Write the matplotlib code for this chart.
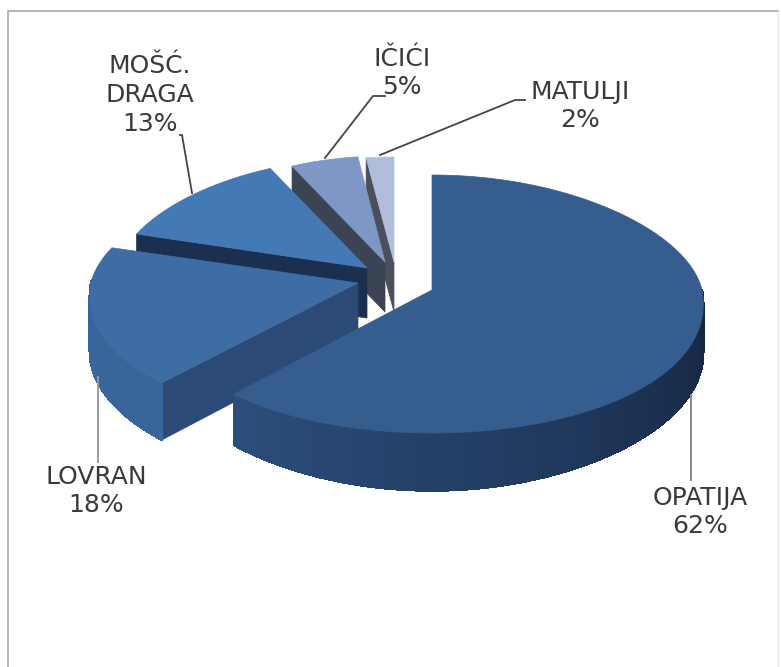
# 3D exploded pie, drawn by hand because matplotlib has no pie3d
import numpy as np
import matplotlib
matplotlib.use("Agg")
import matplotlib.pyplot as plt
from matplotlib.collections import PolyCollection
from matplotlib.colors import to_rgb

names = ["OPATIJA", "LOVRAN", "MOŠĆ.\nDRAGA", "IČIĆI", "MATULJI"]
shares = [62, 18, 13, 5, 2]

# explosion layout: apex x, apex y, radius x, radius y back, radius y front, depth
apex_x = [432, 358, 367, 385, 394]
apex_y = [290, 283, 268, 262, 262]
rad_x = [270, 267, 250, 240, 247]
rad_back = [115, 114, 110, 106, 105]
rad_front = [143, 137, 137, 137, 137]
depth = [48, 54, 50, 50, 50]

top_col = ["#355e8f", "#3e6da3", "#4379b5", "#7e97c4", "#b0bedc"]
wall_col = ["#2b4c79", "#2b4a76", "#1b2f4f", "#3b4454", "#4a4f5c"]
# rim colours run clockwise, so the big slice goes from its dark right side to the left
rim_start = ["#14243e", "#3a659b", "#1b2f4f", "#3b4454", "#4a4f5c"]
rim_end = ["#2c4e7c", "#3a659b", "#1b2f4f", "#3b4454", "#4a4f5c"]

fig = plt.figure(figsize=(7.81, 6.67), dpi=100)
ax = fig.add_axes([0, 0, 1, 1])
ax.set_xlim(0, 781)
ax.set_ylim(667, 0)
ax.axis("off")
plt.rcParams["font.family"] = ["DejaVu Sans"]

# frame of the pasted screenshot, bottom edge is cut off
ax.plot([8, 8, 778], [667, 11, 11], color="#b5b5b5", lw=1.4)
ax.plot([778, 778], [11, 667], color="#efefef", lw=1.0)


def project(i, ang):
    # slight perspective, front of the pie is wider than the back
    c, s = np.cos(ang), np.sin(ang)
    x = apex_x[i] + rad_x[i] * c * (1 - 0.1 * s)
    y = apex_y[i] - np.where(s > 0, rad_back[i], rad_front[i]) * s
    return x, y


def wall_depth(i, ang):
    # the wall looks taller towards the front
    return depth[i] * (1 + 0.2 * np.sin(ang) ** 4 * (np.sin(ang) < 0))


bounds = np.cumsum([0] + shares) / sum(shares) * 2 * np.pi
for i in range(len(shares) - 1, -1, -1):
    a0 = np.pi / 2 - bounds[i]
    a1 = np.pi / 2 - bounds[i + 1]
    ang = np.linspace(a0, a1, 160)
    x, y = project(i, ang)
    d = wall_depth(i, ang)

    # radial wall facing the viewer, all but the big slice show one
    if i > 0:
        ax.fill([apex_x[i], x[0], x[0], apex_x[i]],
                [apex_y[i], y[0], y[0] + d[0], apex_y[i] + depth[i]],
                color=wall_col[i], lw=0.5)

    # outer rim, only the front half shows
    seen = [k for k in range(len(ang) - 1) if np.sin(ang[k]) <= 0.02]
    strips, cols = [], []
    c0, c1 = np.array(to_rgb(rim_start[i])), np.array(to_rgb(rim_end[i]))
    for n, k in enumerate(seen):
        strips.append([(x[k], y[k]), (x[k + 1], y[k + 1]),
                       (x[k + 1], y[k + 1] + d[k + 1]), (x[k], y[k] + d[k])])
        cols.append(c0 + (c1 - c0) * n / max(len(seen) - 1, 1))
    if strips:
        ax.add_collection(PolyCollection(strips, facecolors=cols, edgecolors=cols,
                                         linewidths=1.0, antialiaseds=False))

    ax.fill(np.r_[apex_x[i], x], np.r_[apex_y[i], y], color=top_col[i], lw=0.5)

# leader lines
ax.plot([691, 691], [395, 480], color="#8a8a8a", lw=1.4)
ax.plot([98, 98], [377, 462], color="#9a9a9a", lw=1.4)
ax.plot([180, 182, 192], [135, 135, 193], color="#444444", lw=1.3)
ax.plot([325, 373, 385], [158, 96, 96], color="#444444", lw=1.3)
ax.plot([380, 515, 525], [155, 100, 100], color="#444444", lw=1.3)

# labels
label_xy = [(700, 512), (96, 491), (150, 95), (402, 73), (580, 106)]
for nm, sh, (lx, ly) in zip(names, shares, label_xy):
    ax.text(lx, ly, f"{nm}\n{sh}%", ha="center", va="center", fontsize=18,
            color="#3a3a3a", linespacing=1.25)

fig.savefig("out.png", dpi=100)
